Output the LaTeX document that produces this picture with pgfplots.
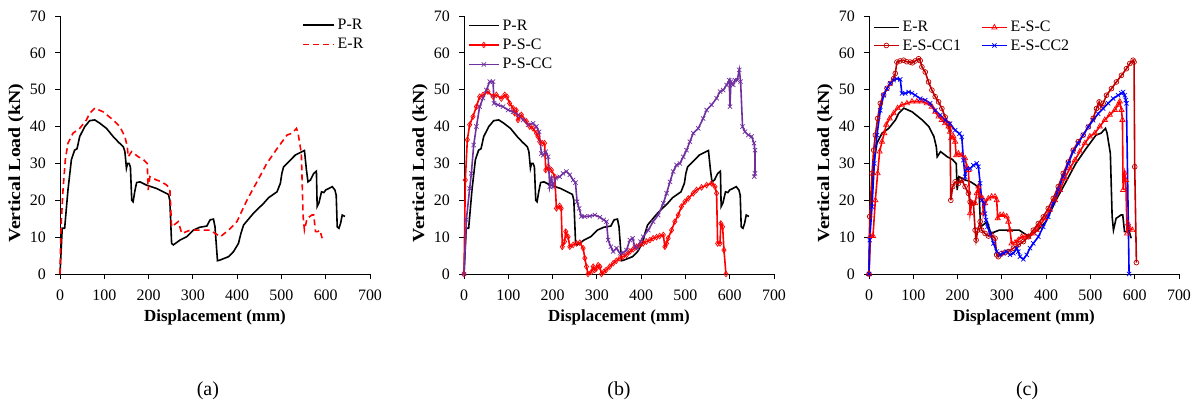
\documentclass[border=0pt]{standalone}
\usepackage{graphicx}
\usepackage{pgfplots}
\pgfplotsset{compat=1.18}
\usepackage{pgfplotstable}
\usepackage{fontspec}
\setmainfont{Liberation Serif}
\definecolor{ccpurple}{RGB}{112,48,160}
\definecolor{ccdark}{RGB}{192,0,0}

\pgfplotstableread{
x y
0 0
5 12.4
10.5 12.4
18 22.8
25.7 31
33 33.6
38.5 34
44.5 37.3
56 40
67 41.6
78.5 41.8
90 40.9
105 39.5
120 37.3
131 35.9
143 34.5
146.5 33.2
150 28.7
152.5 30
156 30
159 29
162 20
165 19.6
169 22.5
173 24.8
180.5 25
195.6 24.1
218 23.2
233 22.3
244.7 21.6
248 20
252 8.3
256 7.9
271 9.2
286 10.1
301 11.9
316 12.7
331.5 13
339 14.7
346.6 14.9
350 12.8
355.6 3.6
361.7 3.8
380.6 4.7
392 6.1
403 8.3
408.5 11
414.6 13.3
437 16.5
460 19.2
471 20.7
490 22.3
497.6 24.6
501 27.3
505 29.1
520 30.9
531.6 32.3
546.7 33.2
552 33.5
556.5 28.2
560 25
565.6 25.5
573 27.3
579 27.9
580.7 18.3
584.5 19.2
590.5 22.3
595.8 22.1
600 22.8
607 23.2
614.7 23.7
620.7 22.8
623.7 21.4
626 12.8
629.8 12.4
633.5 13.7
637.3 16
643.4 15.6
}\PR

\pgfplotstableread{
x y
0 0
2.3 12.8
6.8 22.8
12 31
18 35.5
29.4 38.2
44.5 39.5
59.7 41.8
67 43.6
78.5 45
97.4 44
120 41.8
135 40
146.5 37.3
152 34.5
154 31.8
161.6 33.2
176.7 31.8
188 31.1
197 30
199 22.8
203 26.4
218 25.5
229.6 25
241 24.1
248 23.2
252 12.8
267 14.2
275 11
294 11.9
339 11.9
362 10.1
380.6 11.9
399.5 14.2
422 20
444.7 25
467 30
490 34
512.7 37.7
524 38.2
534 39.5
537.6 38.2
545 32.7
549 15.6
552 11.9
558 15.1
569 16
573 16
577 11.5
582 11.5
586.7 11.9
592 9.7
}\ER

\pgfplotstableread{
x y
0 0
3 25.5
7.5 36.4
12.8 40.5
20.3 42.7
27.9 45.4
35.4 48.1
43 48.6
54 49.5
65.6 48.1
73 48.6
84.4 47.6
92 48.6
97 48.1
103 46.3
110.8 45
114.5 43.6
118 44.4
122 41.8
129.6 43.2
141 41.4
148.4 40
156 39.5
163.5 38.2
167 37.3
171 35.9
177 35.5
182 35.5
184.6 28.2
190 29.1
197.4 28.2
205 26.4
208.7 17.8
216 18.5
219.5 17.8
222 7.4
227 8.8
229.8 11.5
235 10.1
239 7.4
246.4 7.9
254 8.3
261.5 8.5
269 7
272.8 4.3
276.5 2
280 0
288 0.6
291.6 2
295 1.1
299 1.5
303 2.4
306.7 2
310.5 0
316 0.6
321 1.1
329 2
336.8 2.9
344 3.6
352 4.3
359 4.7
367 5.2
374.5 6.1
382 6.7
389.6 7.4
397 7.9
404.6 8.3
412 8.8
419.7 9.2
427 9.7
434.8 10
442 10.3
450 10.6
453.6 7.4
457.4 8.3
461 9.7
468.7 11.9
476 14.2
483.7 16
491 18.3
498.8 19.6
506.4 20.5
517.7 21.9
525 22.8
536.5 23.5
547.8 24.1
559 24.6
566.6 23.7
570.4 21.9
572.7 8.3
578 8.3
580 13.7
584 12.8
587 6.5
591.5 0
}\PSC

\pgfplotstableread{
x y
0 0
5.3 14.7
12.8 23.2
16.6 27.3
21.9 35
28 40
35.4 45.4
43 47.7
50.5 49.9
58 52.2
65.6 52.2
67.8 46.3
76.9 45.9
88 45.4
99.5 44.5
110.8 44
122 43.2
133.4 41.8
144.7 40.5
156 40.9
163.5 40
169.5 38.6
174.8 32.7
178.6 32.2
184.6 33.2
190 31.8
193.6 23.7
197.4 26
201 23.7
207 26
216 26.4
223.8 27.3
231.3 27.8
239 26.9
246.4 25.5
251.7 24.8
255.4 19.6
260 17.8
265 15.6
272.5 15.6
284 15.7
295.4 16
306.7 15.4
315.7 14.7
321.7 14.2
325.5 9.2
331.5 7.4
336.8 6.1
344.4 7
352 5.6
359.5 5.8
367 6.5
374.5 9.2
380.5 9.7
385.8 7.4
391 7
398.6 8.8
404.6 10.1
416 11.9
427 14.2
438.6 16
450 19.2
457.4 21.9
465 25
472.4 27.8
480 29.6
487.5 30
495 31.8
502.6 33.6
510 35.9
517.7 38.2
529 39.5
540 42.2
547.8 44.5
559 45.9
570.4 47.7
578 49.5
585.5 49.9
593 51.3
599 52.6
600.5 45.4
602.8 52.2
608 51.3
612 52.6
617 52.6
621.6 55.4
624.6 52.2
629 40
634.4 38.6
642 37.7
649.5 37.3
654.8 35.5
657 33.6
657 27.3
655.5 26.4
}\PSCC

\pgfplotstableread{
x y
0 0
3 10.3
9 10.3
14.3 20
19.5 27.3
24 33.2
29.3 35.9
34.5 38.2
39 40.5
46.6 42.2
55.6 43.6
64.6 45
74.3 45.9
85.6 46.3
97 46.8
108 46.8
119.4 46.8
130.7 46.3
142 45.4
149.5 44
157 42.7
164.5 41.8
172 40.9
179.5 40
183 38.6
185.5 36.8
190.8 37.3
194.5 35.9
196.8 32.2
202 32.7
209.5 32.2
217 31.4
220.8 29.1
224.5 28.2
228.3 16.5
232 19.2
239.6 19.2
243.3 21.9
247 23.7
251 21
256.5 20.5
258 16.5
262 19.2
269.6 20.5
277 21
284.6 21
288.4 20
290.6 15.1
296 16
303.4 16
311 15.6
314.7 14.2
318.4 11.9
322 8.3
329.7 8.5
337 9.2
344.7 10.1
352 10.1
359.7 10.1
371 11
378.5 11.9
386 13.3
397.3 15.1
408.5 17.4
419.8 20
431 22.8
442.3 26
453.6 28.7
464.9 30.9
476 33.2
487.4 35.5
498.7 37.3
510 38.2
521 40
532.5 41.8
543.7 43.2
555 44.5
562.5 45.9
566.3 46.8
570 44.5
572.3 41.8
573.8 22.8
577.5 27.3
579.8 25.5
582.8 11
585 13.7
588.8 12.4
594.8 11.9
}\ESC

\pgfplotstableread{
x y
0 0
1.5 15.6
6.8 27.3
10.5 33.6
14.3 37.7
19.5 42.2
25.5 46.3
33 48.6
40.6 50.4
48 51.7
55.6 53
59.3 54.4
63 57.5
70 57.8
78 58
85 57.6
93 57.5
98 57.3
104.4 57.8
112 58.4
115.6 57.9
119.4 56.2
127 54.8
134.4 52.1
142 49.9
149.5 48.1
157 46.7
164.5 44.9
172 42.6
179.5 40.8
183 39.5
184.7 20
189 23.7
194.5 25
202 24.6
209.5 25.5
217 23.7
224.5 21.9
228.3 19.6
235.8 19.2
239.6 11.9
241.8 9.2
245.6 11.9
251 14.2
254.6 11.9
262 11
269.6 10.3
277 10.6
284.6 9.7
288.4 5.2
292 4.7
299.6 5.6
307 5.8
314.7 6.1
326 7
337 7.9
348.5 8.8
359.7 10.1
371 11.9
382.3 13.7
393.5 15.5
404.8 17.8
416 20.5
427.3 23.7
438.6 27.3
450 30.4
461 33.6
472.4 35.9
483.6 37.7
495 39.9
506 42.2
513.7 44.9
519.7 46.7
523.4 45.3
528.7 46.3
536.2 48.5
547.5 50.3
558.7 52.1
570 53.9
581.3 55.7
588.8 57.1
596.3 58
598.5 57.5
600 29.1
603.8 3.1
}\ESCCa

\pgfplotstableread{
x y
0 0
1.5 9.2
6.8 18.3
12 30
18 37.7
25.5 44.4
33 48.5
40.6 50.3
48 51.7
55.6 52.6
63 53
70.6 52.8
74.3 49
82 49
89.4 49.4
97 49.1
104.4 48.5
115.6 47.6
127 47.2
138 46.3
149.5 44.4
160.7 43.1
172 41.7
183 40.8
194.5 39
204.3 38.1
209.5 37.2
213.3 30.9
217 26.4
220.8 28.6
228.3 28.6
235.8 29.5
243.3 30
247 29.1
251 24.6
254.6 20
259.8 19.2
262 16.4
264.3 14.6
267.4 12.8
273.4 11
281 8.3
288.4 6.1
296 5.2
303.4 5.6
311 6.1
318.4 5.2
326 5.6
333.4 7
337 6.1
341 4.7
348.5 4
356 5.2
363.5 7
371 8.3
382.3 10.1
393.5 12.8
404.8 15.5
416 19.2
427.3 22.8
438.6 26.4
450 30
461 33.2
472.4 35.4
483.6 37.7
495 39.9
506 41.7
517.4 43.5
528.7 44.9
540 46.3
551.2 47.6
562.5 48.5
570 49
573.8 49.4
577.5 48.5
579.8 47.2
581.3 46.3
587.3 0
}\ESCCb

\pgfplotsset{
  panel/.style={
    scale only axis, width=310bp, height=258bp,
    anchor=south west,
    xmin=0, xmax=700, ymin=0, ymax=70,
    xtick={0,100,...,700}, ytick={0,10,...,70},
    axis x line*=bottom, axis y line*=left,
    axis line style={line width=0.9bp, -},
    every tick/.style={line width=0.9bp, black},
    tick align=outside, major tick length=5bp,
    tick label style={font=\fontsize{16}{19}\selectfont},
    /pgf/number format/assume math mode=true,
    xticklabel style={anchor=base, inner sep=0pt, yshift=-21bp},
    yticklabel style={anchor=east, inner sep=0pt, xshift=-9bp},
    xlabel={\bfseries Displacement (mm)},
    ylabel={\scalebox{1.17}[1]{\bfseries Vertical Load (kN)}},
    label style={font=\fontsize{17}{20}\selectfont},
    xlabel style={at={(axis description cs:0.5,-0.186)}, anchor=base, inner sep=0pt},
    ylabel style={at={(axis description cs:-0.142,0.43)}, anchor=center, rotate=0, inner sep=0pt},
    legend cell align=left,
    clip=false,
  },
  leg/.style={legend style={draw=none, fill=none, font=\fontsize{16}{19}\selectfont,
    nodes={inner sep=0pt}, row sep=7.4bp, column sep=3bp, inner sep=0pt, outer sep=0pt}},
  s/.style={line width=1.6bp},
}

\begin{document}
\begin{tikzpicture}
\useasboundingbox (0,0) rectangle (1201bp,405bp);

% (a)
\begin{axis}[panel, at={(60bp,131bp)}, leg,
  legend style={at={(axis description cs:0.781,0.988)}, anchor=north west},
  legend image code/.code={\draw[mark repeat=2,mark phase=2,#1] plot coordinates {(0bp,0bp) (15.5bp,0bp) (31bp,0bp)};}]
\addplot[s, black, no marks] table {\PR};
\addlegendentry{P-R}
\addplot[s, red, no marks, dash pattern=on 6bp off 4bp] table {\ER};
\addlegendentry{E-R}
\node[font=\fontsize{20}{24}\selectfont, anchor=base] at (axis description cs:0.477,-0.469) {(a)};
\end{axis}

% (b)
\begin{axis}[panel, at={(464bp,131bp)}, leg,
  legend style={at={(axis description cs:0.013,0.986)}, anchor=north west},
  legend image code/.code={\draw[mark repeat=2,mark phase=2,#1] plot coordinates {(0bp,0bp) (15bp,0bp) (30bp,0bp)};}]
\addplot[s, black, no marks] table {\PR};
\addlegendentry{P-R}
\addplot[s, red, mark=diamond, mark size=2.8bp, mark options={solid, line width=0.7bp, fill=white}] table {\PSC};
\addlegendentry{P-S-C}
\addplot[s, ccpurple, mark=x, mark size=3bp, mark options={solid, line width=0.7bp}] table {\PSCC};
\addlegendentry{P-S-CC}
\node[font=\fontsize{20}{24}\selectfont, anchor=base] at (axis description cs:0.5,-0.469) {(b)};
\end{axis}

% (c)
\begin{axis}[panel, at={(869bp,131bp)}, leg, legend columns=2,
  legend style={at={(axis description cs:0.013,0.979)}, anchor=north west, row sep=6bp,
    /tikz/every even column/.append style={column sep=20bp}},
  legend image code/.code={\draw[mark repeat=2,mark phase=2,#1] plot coordinates {(0bp,0bp) (12.5bp,0bp) (25bp,0bp)};}]
\addplot[s, black, no marks] table {\ER};
\addlegendentry{E-R}
\addplot[s, red, mark=triangle, mark size=3bp, mark options={solid, line width=0.7bp, fill=white}] table {\ESC};
\addlegendentry{E-S-C}
\addplot[s, ccdark, mark=o, mark size=2.4bp, mark options={solid, line width=0.7bp, fill=white}] table {\ESCCa};
\addlegendentry{E-S-CC1}
\addplot[s, blue, mark=x, mark size=3bp, mark options={solid, line width=0.7bp}] table {\ESCCb};
\addlegendentry{E-S-CC2}
\node[font=\fontsize{20}{24}\selectfont, anchor=base] at (axis description cs:0.51,-0.469) {(c)};
\end{axis}
\end{tikzpicture}
\end{document}
